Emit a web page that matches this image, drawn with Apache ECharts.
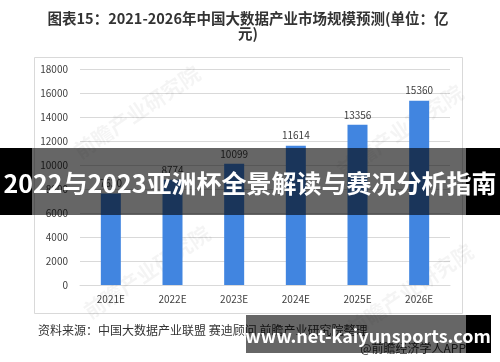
<!DOCTYPE html>
<html>
<head>
<meta charset="utf-8">
<script src="https://cdn.jsdelivr.net/npm/echarts@6/dist/echarts.min.js"></script>
<style>html,body{margin:0;padding:0;background:#fff;}#c{width:500px;height:362px;}</style>
</head>
<body>
<div id="c"></div>
<script>
var categories = ['2021E', '2022E', '2023E', '2024E', '2025E', '2026E'];
var marketSize = [7630, 8774, 10099, 11614, 13356, 15360];
var yTicks = [0, 2000, 4000, 6000, 8000, 10000, 12000, 14000, 16000, 18000];
var titleLine1 = '图表15：2021-2026年中国大数据产业市场规模预测(单位：亿';
var titleLine2 = '元)';
var sourceText = '资料来源：中国大数据产业联盟 赛迪顾问 前瞻产业研究院整理';
var creditText = '@前瞻经济学人APP';
var bannerText = '2022与2023亚洲杯全景解读与赛况分析指南';
var siteText = 'www.net-kaiyunsports.com';
var watermark = '前瞻产业研究院';

var chart = echarts.init(document.getElementById('c'), null, {renderer: 'canvas'});
var font = '"Noto Sans CJK SC", "Noto Sans", sans-serif';

function wm(x, y) {
  return {type: 'text', x: x, y: y, rotation: 34 * Math.PI / 180, z: 1, silent: true,
    style: {text: watermark, fill: 'rgba(0,0,0,0.045)', font: 'bold 21px ' + font, textAlign: 'center', textVerticalAlign: 'middle'}};
}

chart.setOption({
  animation: false,
  backgroundColor: '#fff',
  textStyle: {fontFamily: font},
  grid: {left: 80, right: 50, top: 69, bottom: 77, containLabel: false},
  xAxis: {
    type: 'category', data: categories,
    axisLine: {show: true, lineStyle: {color: '#d9d9d9'}},
    axisTick: {show: false},
    axisLabel: {color: '#404040', fontSize: 10, margin: 9, fontFamily: font}
  },
  yAxis: {
    type: 'value', min: yTicks[0], max: yTicks[yTicks.length - 1], interval: 2000,
    axisLine: {show: false}, axisTick: {show: false},
    splitLine: {lineStyle: {color: '#d9d9d9'}},
    axisLabel: {color: '#404040', fontSize: 10, margin: 12, fontFamily: font,
      formatter: function (v) { return String(v); }}
  },
  series: [{
    type: 'bar', data: marketSize, barWidth: 20,
    itemStyle: {color: '#4185e0'},
    label: {show: true, position: 'top', color: '#404040', fontSize: 10, distance: 5, fontFamily: font}
  }],
  graphic: [
    {type: 'rect', shape: {x: 34.5, y: 57.5, width: 428, height: 256}, z: -1, silent: true,
      style: {fill: 'none', stroke: '#d9d9d9', lineWidth: 1}},
    {type: 'text', x: 248, y: 18, z: 10, style: {text: titleLine1, fill: '#333', font: 'bold 14.5px ' + font, textAlign: 'center', textVerticalAlign: 'middle'}},
    {type: 'text', x: 248, y: 33, z: 10, style: {text: titleLine2, fill: '#333', font: 'bold 14.5px ' + font, textAlign: 'center', textVerticalAlign: 'middle'}},
    wm(137, 112), wm(400, 131), wm(147, 272), wm(410, 290),
    {type: 'text', x: 38, y: 330, z: 10, style: {text: sourceText, fill: '#333', font: '12px ' + font, textAlign: 'left', textVerticalAlign: 'middle'}},
    {type: 'text', x: 466, y: 348, z: 10, style: {text: creditText, fill: '#333', font: '12px ' + font, textAlign: 'right', textVerticalAlign: 'middle'}},
    {type: 'rect', shape: {x: 0, y: 148, width: 32, height: 67}, z: 100, silent: true, style: {fill: '#000'}},
    {type: 'rect', shape: {x: 466, y: 148, width: 34, height: 67}, z: 100, silent: true, style: {fill: '#000'}},
    {type: 'rect', shape: {x: 32, y: 148, width: 434, height: 67}, z: 100, silent: true, style: {fill: 'rgba(0,0,0,0.6)'}},
    {type: 'text', x: 250, y: 183, z: 101, style: {text: bannerText, fill: '#fff', font: 'bold 25px ' + font, textAlign: 'center', textVerticalAlign: 'middle'}},
    {type: 'rect', shape: {x: 246, y: 315, width: 220, height: 38}, z: 100, silent: true, style: {fill: 'rgba(0,0,0,0.6)'}},
    {type: 'rect', shape: {x: 466, y: 315, width: 25, height: 38}, z: 100, silent: true, style: {fill: '#000'}},
    {type: 'text', x: 368, y: 336, z: 101, style: {text: siteText, fill: '#fff', font: 'bold 18px ' + font, textAlign: 'center', textVerticalAlign: 'middle'}}
  ]
});
</script>
</body>
</html>
